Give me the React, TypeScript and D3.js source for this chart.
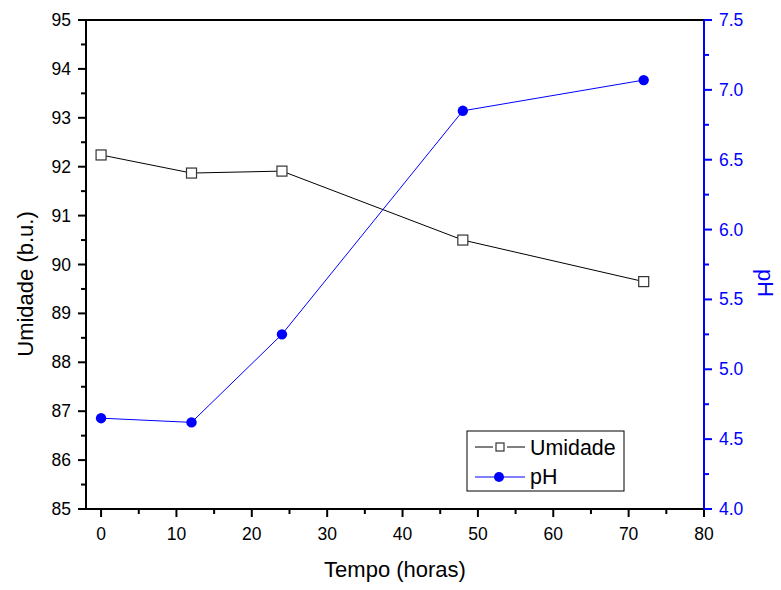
import React from "react";
import * as d3 from "d3";

const tempo = [0, 12, 24, 48, 72];
const umidade = [92.24, 91.87, 91.91, 90.5, 89.65];
const ph = [4.65, 4.62, 5.25, 6.85, 7.07];
const xTicks = [0, 10, 20, 30, 40, 50, 60, 70, 80];
const yLeftTicks = [85, 86, 87, 88, 89, 90, 91, 92, 93, 94, 95];
const yRightTicks = [4.0, 4.5, 5.0, 5.5, 6.0, 6.5, 7.0, 7.5];

const W = 781, H = 590;
const L = 86, R = 704, T = 20, B = 509;
const FONT = "Liberation Sans, Arial, sans-serif";
const BLUE = "#0000ff";

export default function App() {
  const x = d3.scaleLinear().domain([-2, 80]).range([L, R]);
  const yL = d3.scaleLinear().domain([85, 95]).range([B, T]);
  const yR = d3.scaleLinear().domain([4, 7.5]).range([B, T]);
  const lineU = d3.line<number>().x((_, i) => x(tempo[i])).y((d) => yL(d));
  const lineP = d3.line<number>().x((_, i) => x(tempo[i])).y((d) => yR(d));
  const xMinor = d3.range(5, 80, 10);
  const yLMinor = d3.range(85.5, 95, 1);
  const yRMinor = d3.range(4.25, 7.5, 0.5);
  const uPath = lineU(umidade) || "";
  const pPath = lineP(ph) || "";

  return (
    <svg width={W} height={H} style={{ position: "absolute", left: 0, top: 0 }} fontFamily={FONT}>
      <rect width={W} height={H} fill="#fff" />
      {/* lines */}
      <path d={uPath} fill="none" stroke="#000" strokeWidth={1} />
      <path d={pPath} fill="none" stroke={BLUE} strokeWidth={1} />
      {tempo.map((t, i) => (
        <rect key={"u" + i} x={x(t) - 5} y={yL(umidade[i]) - 5} width={10} height={10} fill="#fff" stroke="#333" strokeWidth={1.2} />
      ))}
      {tempo.map((t, i) => (
        <circle key={"p" + i} cx={x(t)} cy={yR(ph[i])} r={5.2} fill={BLUE} />
      ))}
      {/* frame */}
      <line x1={L} x2={R} y1={T} y2={T} stroke="#000" strokeWidth={2} />
      <line x1={L} x2={L} y1={T} y2={B} stroke="#000" strokeWidth={2} />
      <line x1={L} x2={R} y1={B} y2={B} stroke="#000" strokeWidth={2} />
      <line x1={R} x2={R} y1={T} y2={B} stroke={BLUE} strokeWidth={2} />
      {/* x ticks */}
      {xTicks.map((t) => (
        <g key={"x" + t}>
          <line x1={x(t)} x2={x(t)} y1={B} y2={B + 8} stroke="#000" strokeWidth={2} />
          <text x={x(t)} y={540} fontSize={17.5} textAnchor="middle" fill="#000">{t}</text>
        </g>
      ))}
      {xMinor.map((t) => (
        <line key={"xm" + t} x1={x(t)} x2={x(t)} y1={B} y2={B + 5} stroke="#000" strokeWidth={2} />
      ))}
      {/* left ticks */}
      {yLeftTicks.map((t) => (
        <g key={"yl" + t}>
          <line x1={L - 8} x2={L} y1={yL(t)} y2={yL(t)} stroke="#000" strokeWidth={2} />
          <text x={L - 15} y={yL(t) + 6} fontSize={17.5} textAnchor="end" fill="#000">{t}</text>
        </g>
      ))}
      {yLMinor.map((t) => (
        <line key={"ylm" + t} x1={L - 5} x2={L} y1={yL(t)} y2={yL(t)} stroke="#000" strokeWidth={2} />
      ))}
      {/* right ticks */}
      {yRightTicks.map((t) => (
        <g key={"yr" + t}>
          <line x1={R} x2={R + 8} y1={yR(t)} y2={yR(t)} stroke={BLUE} strokeWidth={2} />
          <text x={R + 15} y={yR(t) + 6} fontSize={17.5} textAnchor="start" fill={BLUE}>{t.toFixed(1)}</text>
        </g>
      ))}
      {yRMinor.map((t) => (
        <line key={"yrm" + t} x1={R} x2={R + 5} y1={yR(t)} y2={yR(t)} stroke={BLUE} strokeWidth={2} />
      ))}
      {/* axis titles */}
      <text x={395} y={577} fontSize={22} textAnchor="middle" fill="#000">Tempo (horas)</text>
      <text transform={`translate(33, 284) rotate(-90)`} fontSize={22} textAnchor="middle" fill="#000">Umidade (b.u.)</text>
      <text transform={`translate(758, 283) rotate(90)`} fontSize={22} textAnchor="middle" fill={BLUE}>pH</text>
      {/* legend */}
      <rect x={467} y={431} width={157} height={60} fill="#fff" stroke="#000" strokeWidth={1} />
      <line x1={475} x2={493} y1={447} y2={447} stroke="#000" strokeWidth={1} />
      <line x1={507} x2={525} y1={447} y2={447} stroke="#000" strokeWidth={1} />
      <rect x={496} y={443} width={8} height={8} fill="#fff" stroke="#333" strokeWidth={1.2} />
      <text x={530} y={455} fontSize={21.4} fill="#000">Umidade</text>
      <line x1={475} x2={525} y1={477} y2={477} stroke={BLUE} strokeWidth={1} />
      <circle cx={499} cy={477} r={5} fill={BLUE} />
      <text x={530} y={484} fontSize={21.4} fill="#000">pH</text>
    </svg>
  );
}
